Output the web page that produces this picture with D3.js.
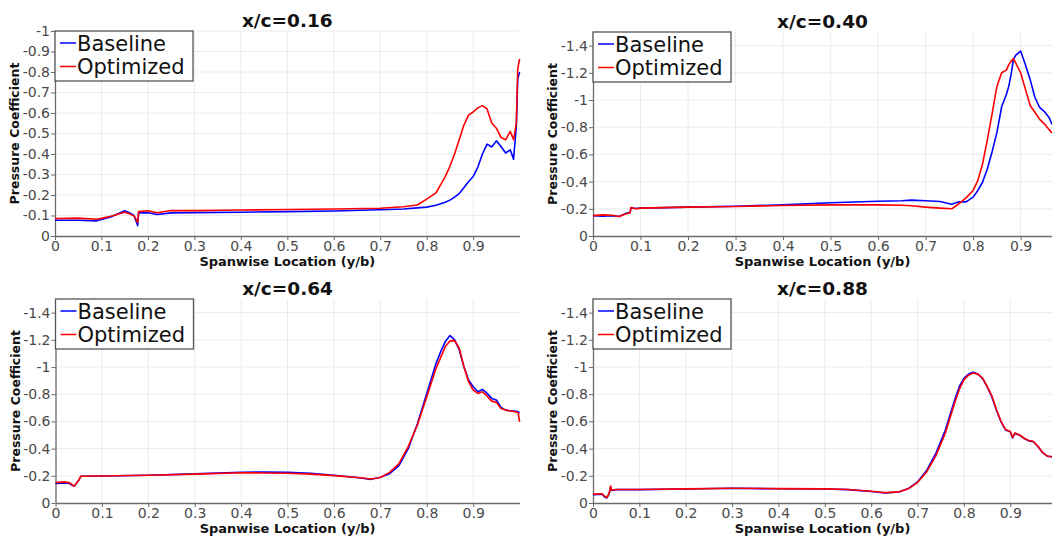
<!DOCTYPE html>
<html>
<head>
<meta charset="utf-8">
<script src="https://cdn.jsdelivr.net/npm/d3@7"></script>
<style>
  html, body { margin: 0; padding: 0; background: #fff; }
  svg { display: block; font-family: "DejaVu Sans", sans-serif; }
</style>
</head>
<body>
<svg id="chart" width="1052" height="540"></svg>
<script>
// ---- Spanwise pressure-coefficient distributions at four chordwise stations ----
const titles = ["x/c=0.16", "x/c=0.40", "x/c=0.64", "x/c=0.88"];
const seriesNames = ["Baseline", "Optimized"];
const xTicks = [0, 0.1, 0.2, 0.3, 0.4, 0.5, 0.6, 0.7, 0.8, 0.9];
const yTicksFine = [0, -0.1, -0.2, -0.3, -0.4, -0.5, -0.6, -0.7, -0.8, -0.9, -1];
const yTicksCoarse = [0, -0.2, -0.4, -0.6, -0.8, -1, -1.2, -1.4];

// x/c = 0.16
const spanA = [0, 0.05, 0.09, 0.1, 0.12, 0.15, 0.16, 0.17, 0.175, 0.178, 0.18, 0.2, 0.22, 0.25, 0.3, 0.4, 0.5, 0.6, 0.7, 0.75, 0.78, 0.8, 0.82, 0.84, 0.85, 0.86, 0.87, 0.88, 0.89, 0.9, 0.91, 0.92, 0.93, 0.94, 0.95, 0.96, 0.97, 0.98, 0.987, 0.993, 0.996, 1.0];
const baseA = [-0.077, -0.077, -0.074, -0.08, -0.093, -0.123, -0.114, -0.1, -0.07, -0.05, -0.114, -0.113, -0.105, -0.113, -0.114, -0.116, -0.119, -0.122, -0.128, -0.132, -0.137, -0.141, -0.15, -0.165, -0.175, -0.19, -0.207, -0.235, -0.265, -0.29, -0.335, -0.4, -0.448, -0.434, -0.464, -0.437, -0.405, -0.42, -0.375, -0.536, -0.767, -0.8];
const optA = [-0.085, -0.087, -0.082, -0.086, -0.096, -0.116, -0.109, -0.098, -0.08, -0.066, -0.119, -0.123, -0.113, -0.124, -0.124, -0.127, -0.129, -0.132, -0.135, -0.143, -0.151, -0.18, -0.21, -0.29, -0.34, -0.4, -0.47, -0.54, -0.59, -0.605, -0.625, -0.636, -0.62, -0.551, -0.526, -0.48, -0.47, -0.51, -0.47, -0.551, -0.815, -0.864];

// x/c = 0.40
const spanB = [0, 0.02, 0.04, 0.055, 0.07, 0.078, 0.08, 0.09, 0.1, 0.2, 0.3, 0.4, 0.5, 0.6, 0.65, 0.67, 0.7, 0.73, 0.755, 0.77, 0.785, 0.8, 0.81, 0.82, 0.83, 0.84, 0.85, 0.86, 0.87, 0.875, 0.88, 0.885, 0.89, 0.9, 0.91, 0.92, 0.93, 0.94, 0.95, 0.96, 0.966];
const baseB = [-0.15, -0.145, -0.15, -0.143, -0.168, -0.175, -0.207, -0.202, -0.205, -0.212, -0.219, -0.229, -0.244, -0.256, -0.259, -0.264, -0.259, -0.254, -0.234, -0.251, -0.251, -0.286, -0.335, -0.397, -0.495, -0.62, -0.76, -0.95, -1.04, -1.1, -1.19, -1.3, -1.33, -1.36, -1.26, -1.15, -1.02, -0.945, -0.915, -0.87, -0.82];
const optB = [-0.15, -0.155, -0.153, -0.143, -0.163, -0.17, -0.21, -0.2, -0.205, -0.212, -0.217, -0.224, -0.229, -0.229, -0.226, -0.222, -0.212, -0.205, -0.2, -0.237, -0.28, -0.335, -0.409, -0.532, -0.708, -0.9, -1.1, -1.2, -1.22, -1.26, -1.285, -1.304, -1.27, -1.2, -1.08, -0.96, -0.91, -0.858, -0.825, -0.782, -0.758];

// x/c = 0.64
const spanC = [0, 0.02, 0.03, 0.04, 0.05, 0.055, 0.06, 0.1, 0.2, 0.3, 0.4, 0.45, 0.5, 0.55, 0.6, 0.65, 0.68, 0.7, 0.72, 0.74, 0.76, 0.78, 0.8, 0.82, 0.83, 0.84, 0.85, 0.86, 0.87, 0.88, 0.89, 0.9, 0.91, 0.92, 0.93, 0.94, 0.95, 0.96, 0.97, 0.98, 0.99, 0.997, 1.0];
const baseC = [-0.143, -0.147, -0.143, -0.123, -0.167, -0.197, -0.197, -0.199, -0.204, -0.214, -0.226, -0.228, -0.226, -0.219, -0.204, -0.187, -0.174, -0.19, -0.215, -0.275, -0.4, -0.585, -0.806, -1.027, -1.113, -1.187, -1.231, -1.199, -1.125, -1.002, -0.904, -0.855, -0.818, -0.835, -0.806, -0.769, -0.757, -0.703, -0.683, -0.678, -0.676, -0.671, -0.66];
const optC = [-0.15, -0.155, -0.15, -0.123, -0.167, -0.199, -0.197, -0.199, -0.204, -0.212, -0.222, -0.221, -0.219, -0.212, -0.201, -0.187, -0.177, -0.187, -0.225, -0.29, -0.415, -0.575, -0.781, -0.99, -1.071, -1.15, -1.192, -1.194, -1.138, -1.002, -0.892, -0.83, -0.806, -0.818, -0.786, -0.749, -0.74, -0.695, -0.683, -0.676, -0.671, -0.663, -0.597];

// x/c = 0.88
const spanD = [0, 0.02, 0.025, 0.03, 0.035, 0.038, 0.04, 0.05, 0.1, 0.2, 0.3, 0.4, 0.5, 0.55, 0.6, 0.63, 0.66, 0.68, 0.7, 0.72, 0.74, 0.76, 0.78, 0.79, 0.8, 0.81, 0.82, 0.83, 0.84, 0.85, 0.86, 0.87, 0.88, 0.89, 0.9, 0.905, 0.91, 0.92, 0.93, 0.94, 0.95, 0.96, 0.97, 0.98, 0.99];
const baseD = [-0.061, -0.064, -0.044, -0.037, -0.069, -0.118, -0.093, -0.098, -0.098, -0.103, -0.108, -0.105, -0.103, -0.098, -0.084, -0.074, -0.081, -0.106, -0.155, -0.241, -0.369, -0.536, -0.757, -0.855, -0.916, -0.948, -0.961, -0.948, -0.916, -0.855, -0.781, -0.683, -0.597, -0.536, -0.523, -0.479, -0.511, -0.499, -0.474, -0.457, -0.45, -0.413, -0.369, -0.344, -0.339];
const optD = [-0.065, -0.068, -0.05, -0.04, -0.075, -0.125, -0.095, -0.099, -0.099, -0.104, -0.108, -0.106, -0.104, -0.099, -0.086, -0.076, -0.082, -0.104, -0.15, -0.23, -0.35, -0.515, -0.735, -0.835, -0.905, -0.94, -0.955, -0.948, -0.92, -0.86, -0.79, -0.69, -0.6, -0.54, -0.526, -0.483, -0.515, -0.5, -0.476, -0.46, -0.452, -0.415, -0.37, -0.345, -0.34];

// ---- panel layout ----
const layout = [
  { span: spanA, base: baseA, opt: optA, yTicks: yTicksFine,   yMin: -1,   left: 55,  right: 519.6, top: 31,  bottom: 236, xMax: 1.0 },
  { span: spanB, base: baseB, opt: optB, yTicks: yTicksCoarse, yMin: -1.5, left: 593, right: 1052,  top: 32,  bottom: 236, xMax: 0.966 },
  { span: spanC, base: baseC, opt: optC, yTicks: yTicksCoarse, yMin: -1.5, left: 55.5, right: 519.6, top: 299, bottom: 503, xMax: 1.0 },
  { span: spanD, base: baseD, opt: optD, yTicks: yTicksCoarse, yMin: -1.5, left: 593, right: 1052,  top: 299, bottom: 503, xMax: 0.99 }
];
const colors = ["#0000ff", "#ff0000"];

const svg = d3.select("#chart");

layout.forEach((p, i) => {
  const x = d3.scaleLinear().domain([0, p.xMax]).range([p.left, p.right]);
  const y = d3.scaleLinear().domain([0, p.yMin]).range([p.bottom, p.top]);
  const g = svg.append("g");

  // grid
  g.append("g").selectAll("line").data(xTicks.filter(d => d > 0)).join("line")
    .attr("x1", d => x(d)).attr("x2", d => x(d))
    .attr("y1", p.top).attr("y2", p.bottom)
    .attr("stroke", "#ececec").attr("stroke-width", 1);
  g.append("g").selectAll("line").data(p.yTicks.filter(d => d !== 0)).join("line")
    .attr("x1", p.left).attr("x2", p.right)
    .attr("y1", d => y(d)).attr("y2", d => y(d))
    .attr("stroke", "#ececec").attr("stroke-width", 1);

  // axes
  const fmt = d => (d === 0 ? "0" : String(d));
  const xAxis = g.append("g").attr("transform", `translate(0,${p.bottom})`)
    .call(d3.axisBottom(x).tickValues(xTicks).tickFormat(fmt).tickSize(4).tickSizeOuter(0).tickPadding(1));
  const yAxis = g.append("g").attr("transform", `translate(${p.left},0)`)
    .call(d3.axisLeft(y).tickValues(p.yTicks).tickFormat(fmt).tickSize(4).tickSizeOuter(0).tickPadding(1));
  [xAxis, yAxis].forEach(a => {
    a.select(".domain").attr("stroke", "#6b6b6b").attr("stroke-width", 1.3);
    a.selectAll(".tick line").attr("stroke", "#6b6b6b");
    a.selectAll(".tick text").attr("fill", "#4a4a4a").style("font-size", "14px")
      .style("font-family", "'DejaVu Sans', sans-serif");
  });

  // curves
  const line = d3.line().x(d => x(d[0])).y(d => y(d[1]));
  [p.base, p.opt].forEach((vals, k) => {
    g.append("path")
      .datum(p.span.map((s, j) => [s, vals[j]]))
      .attr("d", line)
      .attr("fill", "none")
      .attr("stroke", colors[k])
      .attr("stroke-width", 1.6)
      .attr("stroke-linejoin", "round");
  });

  // titles
  const cx = (p.left + p.right) / 2;
  g.append("text").attr("x", cx).attr("y", p.top - 4)
    .attr("text-anchor", "middle").attr("font-weight", "bold")
    .style("font-size", "18.5px").attr("fill", "#111").text(titles[i]);
  g.append("text").attr("x", cx).attr("y", p.bottom + 30)
    .attr("text-anchor", "middle").attr("font-weight", "bold")
    .style("font-size", "13px").attr("fill", "#111").text("Spanwise Location (y/b)");
  g.append("text")
    .attr("transform", `translate(${p.left - 36},${(p.top + p.bottom) / 2}) rotate(-90)`)
    .attr("text-anchor", "middle").attr("font-weight", "bold")
    .style("font-size", "12.5px").attr("fill", "#111").text("Pressure Coefficient");

  // legend
  const lg = g.append("g").attr("transform", `translate(${p.left},${p.top})`);
  lg.append("rect").attr("x", 0).attr("y", 0).attr("width", 138).attr("height", 50)
    .attr("fill", "#fff").attr("stroke", "#555").attr("stroke-width", 1.3);
  seriesNames.forEach((name, k) => {
    const yy = 12 + k * 23.5;
    lg.append("line").attr("x1", 5).attr("x2", 21).attr("y1", yy).attr("y2", yy)
      .attr("stroke", colors[k]).attr("stroke-width", 1.5);
    lg.append("text").attr("x", 22).attr("y", yy + 7.5)
      .style("font-size", "21px").attr("fill", "#111").text(name);
  });
});
</script>
</body>
</html>
